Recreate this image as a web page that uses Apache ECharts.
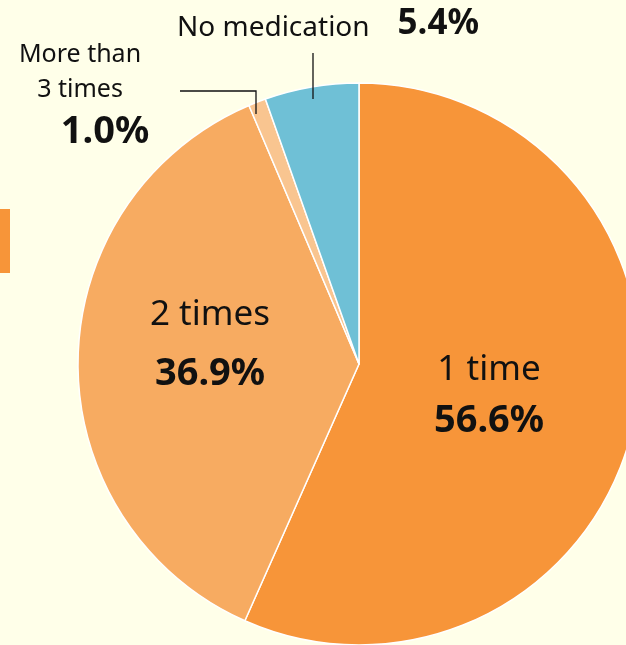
<!DOCTYPE html>
<html>
<head>
<meta charset="utf-8">
<script src="https://cdn.jsdelivr.net/npm/echarts@6/dist/echarts.min.js"></script>
<style>
  html, body { margin: 0; padding: 0; background: #FFFFE9; }
  #pie { width: 626px; height: 645px; }
</style>
</head>
<body>
<div id="pie"></div>
<script>
// data
var names = ['1 time', '2 times', 'More than\n3 times', 'No medication'];
var values = [56.6, 36.9, 1.0, 5.4];
var colors = ['#F79539', '#F7AB61', '#F9C590', '#6FC0D6'];

// where each label block sits (centre), layout only
var labelPos = [[489, 396], [210, 346], [80, 97], [328, 22]];
// leader lines for the two thin slices, drawn on top of the pie
var leaderLines = [
	[[180, 91], [256, 91], [256, 114]],
	[[313, 53], [313, 99]]
];

var txtFont = '"Noto Sans"';
var pctFont = '"Noto Sans"';

var rich = {
	n: { fontFamily: txtFont, fontSize: 35, color: '#111', lineHeight: 56 },
	p: { fontFamily: pctFont, fontWeight: 'bold', fontSize: 38, color: '#111', lineHeight: 62 },
	n1: { fontFamily: txtFont, fontSize: 35, color: '#111', lineHeight: 50 },
	p1: { fontFamily: pctFont, fontWeight: 'bold', fontSize: 38, color: '#111', lineHeight: 52 },
	s: { fontFamily: txtFont, fontSize: 25, color: '#111', lineHeight: 35 },
	sp: { fontFamily: pctFont, fontWeight: 'bold', fontSize: 38, color: '#111', lineHeight: 49, padding: [0, 0, 0, 50] },
	m: { fontFamily: txtFont, fontSize: 28, color: '#111', lineHeight: 40, verticalAlign: 'bottom' },
	g: { width: 28 },
	mp: { fontFamily: pctFont, fontWeight: 'bold', fontSize: 35, color: '#111', lineHeight: 38, verticalAlign: 'bottom' }
};

function fmt(i) {
	var pct = values[i].toFixed(1) + '%';
	if (i == 0) return '{n1|' + names[i] + '}\n{p1|' + pct + '}';
	if (i == 1) return '{n|' + names[i] + '}\n{p|' + pct + '}';
	if (i == 2) {
		var parts = names[i].split('\n');
		return '{s|' + parts[0] + '}\n{s|' + parts[1] + '}\n{sp|' + pct + '}';
	}
	return '{m|' + names[i] + '}{g|}{mp|' + pct + '}';
}

var seriesData = [];
for (var i = 0; i < values.length; i++) {
	seriesData.push({
		name: names[i],
		value: values[i],
		itemStyle: { color: colors[i] },
		label: { position: i < 2 ? 'inside' : 'outside' }
	});
}

var graphics = [{
	type: 'rect',
	shape: { x: 0, y: 209, width: 10, height: 64 },
	style: { fill: '#F79539' }
}];
leaderLines.forEach(function(pts) {
	graphics.push({
		type: 'polyline',
		z: 100,
		shape: { points: pts },
		style: { stroke: '#111', lineWidth: 1.3, fill: null }
	});
});

var chart = echarts.init(document.getElementById('pie'));
chart.setOption({
	backgroundColor: '#FFFFE9',
	animation: false,
	graphic: graphics,
	series: [{
		type: 'pie',
		center: [359, 364],
		radius: 281,
		startAngle: 90,
		clockwise: true,
		itemStyle: { borderColor: '#fff', borderWidth: 1.5 },
		label: {
			show: true,
			align: 'center',
			overflow: 'none',
			width: 400,
			formatter: function(p) { return fmt(p.dataIndex); },
			rich: rich
		},
		labelLine: { show: false },
		labelLayout: function(p) {
			var i = p.dataIndex;
			return {
				x: labelPos[i][0],
				y: labelPos[i][1],
				align: 'center',
				verticalAlign: 'middle'
			};
		},
		data: seriesData
	}]
});
</script>
</body>
</html>
